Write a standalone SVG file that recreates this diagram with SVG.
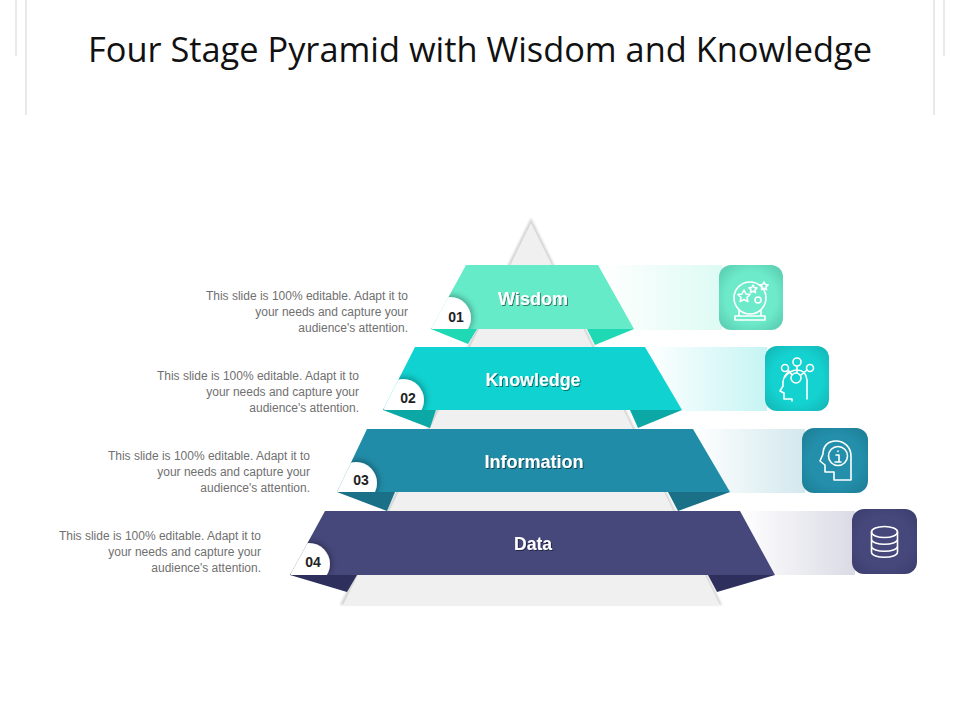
<svg xmlns="http://www.w3.org/2000/svg" width="960" height="720" viewBox="0 0 960 720">
<style>
.title{font:34.4px "Open Sans","Liberation Sans",sans-serif;fill:#111;text-anchor:middle}
.body{font:12px "Liberation Sans",Arial,sans-serif;fill:#707070;text-anchor:end}
.lab{font:bold 19px "Liberation Sans",Arial,sans-serif;fill:#fff;text-anchor:middle;filter:url(#ts)}
.num{font:bold 14px "Liberation Sans",Arial,sans-serif;fill:#222;text-anchor:middle}
.ic{fill:none;stroke:#fff;stroke-width:1.6;stroke-linejoin:round;stroke-linecap:round}
.rule{stroke:#e2e2e2;stroke-width:1.5;fill:none}
</style>
<defs>
<filter id="ts" x="-10%" y="-20%" width="120%" height="150%"><feDropShadow dx="1" dy="1" stdDeviation="0.4" flood-color="#000" flood-opacity="0.5"/></filter>
<filter id="cs" x="-40%" y="-40%" width="180%" height="180%"><feDropShadow dx="1" dy="-1" stdDeviation="3.500" flood-color="#000" flood-opacity="0.4"/></filter>
<filter id="ps" x="-5%" y="-5%" width="110%" height="110%"><feGaussianBlur stdDeviation="1"/></filter>
<linearGradient id="g1"><stop offset="0" stop-color="#66ebc9" stop-opacity="0"/><stop offset="1" stop-color="#66ebc9" stop-opacity="0.22"/></linearGradient>
<linearGradient id="g2"><stop offset="0" stop-color="#10d2d0" stop-opacity="0"/><stop offset="1" stop-color="#10d2d0" stop-opacity="0.24"/></linearGradient>
<linearGradient id="g3"><stop offset="0" stop-color="#218ca8" stop-opacity="0"/><stop offset="1" stop-color="#218ca8" stop-opacity="0.2"/></linearGradient>
<linearGradient id="g4"><stop offset="0" stop-color="#46487c" stop-opacity="0"/><stop offset="1" stop-color="#46487c" stop-opacity="0.2"/></linearGradient>
<radialGradient id="i1" r="0.72"><stop offset="0.55" stop-color="#6deaca"/><stop offset="1" stop-color="#55c4aa"/></radialGradient>
<radialGradient id="i2" r="0.72"><stop offset="0.55" stop-color="#14d2d0"/><stop offset="1" stop-color="#12b0b0"/></radialGradient>
<radialGradient id="i3" r="0.72"><stop offset="0.55" stop-color="#238fab"/><stop offset="1" stop-color="#1d7a92"/></radialGradient>
<radialGradient id="i4" r="0.72"><stop offset="0.55" stop-color="#46487c"/><stop offset="1" stop-color="#3a3c6c"/></radialGradient>
<clipPath id="c1"><path d="M466 265H598L634 329H431Z"/></clipPath>
<clipPath id="c2"><path d="M415 347H645L682 410H383Z"/></clipPath>
<clipPath id="c3"><path d="M367 429H693L730 492H337Z"/></clipPath>
<clipPath id="c4"><path d="M325 511H740L775 575H290Z"/></clipPath>
</defs>
<rect width="960" height="720" fill="#fff"/>
<g id="frame">
<path class="rule" d="M16 0V56M26 0V115M944 0V56M934 0V115"/>
</g>
<text class="title" x="480" y="62" textLength="784" lengthAdjust="spacingAndGlyphs">Four Stage Pyramid with Wisdom and Knowledge</text>
<g id="pyramid">
<path d="M531 218L340 605H722Z" fill="#d4d4d4" filter="url(#ps)"/>
<path d="M531 223L343 605H720Z" fill="#f0f0f0"/>
</g>
<g id="connectors">
<rect x="600" y="265" width="122" height="65" fill="url(#g1)"/>
<rect x="645" y="347" width="122" height="64" fill="url(#g2)"/>
<rect x="693" y="429" width="112" height="64" fill="url(#g3)"/>
<rect x="740" y="511" width="115" height="64" fill="url(#g4)"/>
</g>
<g id="node-wisdom">
<path d="M431 329H477L468 344Z" fill="#1fd8b4"/><path d="M587 329H634L595 345Z" fill="#1fd8b4"/>
<path d="M466 265H598L634 329H431Z" fill="#66ebc9"/>
<g clip-path="url(#c1)"><circle cx="450" cy="318" r="21" fill="#fff" filter="url(#cs)"/></g>
<text class="num" x="456" y="322">01</text>
<text class="lab" x="533" y="305" textLength="70" lengthAdjust="spacingAndGlyphs">Wisdom</text>
<text class="body"><tspan x="408" y="300">This slide is 100% editable. Adapt it to</tspan><tspan x="408" y="316">your needs and capture your</tspan><tspan x="408" y="332">audience's attention.</tspan></text>
<rect x="719" y="265" width="64" height="65" rx="12" fill="url(#i1)"/>
<g class="ic"><circle cx="750" cy="298" r="16"/><path d="M739 310V316H761V310M735 316H765V320H735Z"/><path d="M744 290l2 4 4 .5-3 3 .8 4-3.800-2-3.800 2 .8-4-3-3 4-.5ZM753 285l1.300 2.500 2.700.4-2 2 .5 2.700-2.500-1.300-2.500 1.300.5-2.700-2-2 2.700-.4ZM764 282l1.300 2.500 2.700.4-2 2 .5 2.700-2.500-1.300-2.500 1.300.5-2.700-2-2 2.700-.4Z"/><circle cx="758" cy="300" r="3"/></g>
</g>
<g id="node-knowledge">
<path d="M383 410H436L430 428Z" fill="#0ba8a6"/><path d="M630 410H682L638 428Z" fill="#0ba8a6"/>
<path d="M415 347H645L682 410H383Z" fill="#10d2d0"/>
<g clip-path="url(#c2)"><circle cx="403" cy="400" r="21" fill="#fff" filter="url(#cs)"/></g>
<text class="num" x="408" y="403">02</text>
<text class="lab" x="533" y="386" textLength="95" lengthAdjust="spacingAndGlyphs">Knowledge</text>
<text class="body"><tspan x="359" y="380">This slide is 100% editable. Adapt it to</tspan><tspan x="359" y="396">your needs and capture your</tspan><tspan x="359" y="412">audience's attention.</tspan></text>
<rect x="765" y="346" width="64" height="65" rx="12" fill="url(#i2)"/>
<g class="ic"><circle cx="796" cy="378" r="5"/><circle cx="797" cy="362" r="4"/><circle cx="785" cy="368" r="3.500"/><circle cx="810" cy="368" r="3.500"/><path d="M797 366V373M788 370L792 375M807 370L801 375M785 377Q790 370 797 370Q806 370 807 380V399M788 372Q782 378 783 386L780 391 784 393V399H792V401"/></g>
</g>
<g id="node-information">
<path d="M337 492H395L387 511Z" fill="#1a7087"/><path d="M668 492H730L678 511Z" fill="#1a7087"/>
<path d="M367 429H693L730 492H337Z" fill="#218ca8"/>
<g clip-path="url(#c3)"><circle cx="356" cy="483" r="21" fill="#fff" filter="url(#cs)"/></g>
<text class="num" x="361" y="485">03</text>
<text class="lab" x="534" y="468" textLength="99" lengthAdjust="spacingAndGlyphs">Information</text>
<text class="body"><tspan x="310" y="460">This slide is 100% editable. Adapt it to</tspan><tspan x="310" y="476">your needs and capture your</tspan><tspan x="310" y="492">audience's attention.</tspan></text>
<rect x="802" y="428" width="66" height="65" rx="12" fill="url(#i3)"/>
<g class="ic"><circle cx="838" cy="456" r="9.500"/><path d="M851 480V456C851 447 844 441 836 441 827 441 823 447 823 454L820 461 825 465V472H834V480Z"/><path d="M838 451V451.500M836 455H839V462H836M835 462H841"/></g>
</g>
<g id="node-data">
<path d="M290 575H357L347 592Z" fill="#2e2f5c"/><path d="M708 575H775L717 592Z" fill="#2e2f5c"/>
<path d="M325 511H740L775 575H290Z" fill="#46487c"/>
<g clip-path="url(#c4)"><circle cx="309" cy="564" r="21" fill="#fff" filter="url(#cs)"/></g>
<text class="num" x="313" y="567">04</text>
<text class="lab" x="533" y="550" textLength="38" lengthAdjust="spacingAndGlyphs">Data</text>
<text class="body"><tspan x="261" y="540">This slide is 100% editable. Adapt it to</tspan><tspan x="261" y="556">your needs and capture your</tspan><tspan x="261" y="572">audience's attention.</tspan></text>
<rect x="852" y="509" width="65" height="65" rx="12" fill="url(#i4)"/>
<g class="ic"><ellipse cx="884.500" cy="532" rx="13" ry="5.500"/><path d="M871.500 532V552C871.500 559 897.500 559 897.500 552V532M871.500 539C871.500 546 897.500 546 897.500 539M871.500 546C871.500 553 897.500 553 897.500 546"/></g>
</g>
</svg>
